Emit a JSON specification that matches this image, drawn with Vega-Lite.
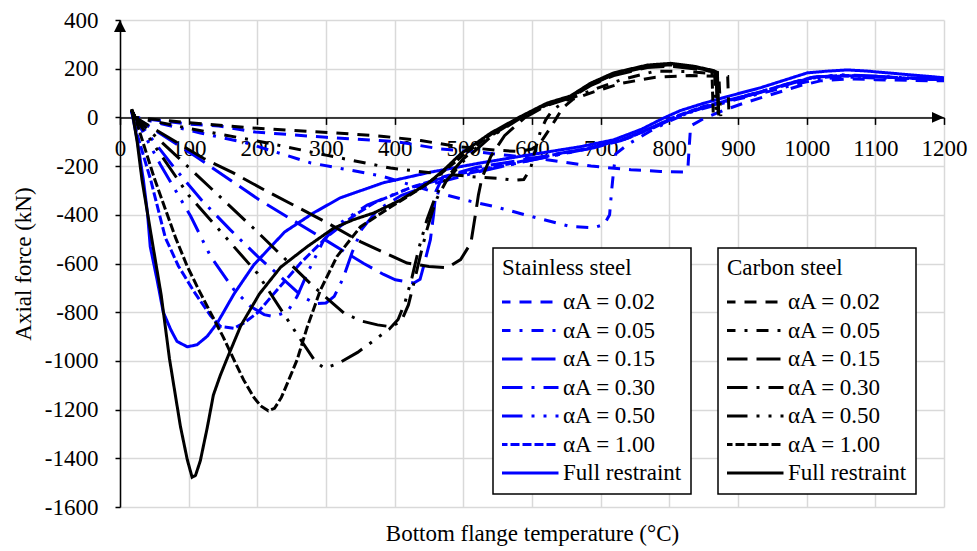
{
  "$schema": "https://vega.github.io/schema/vega-lite/v6.json",
  "width": 824,
  "height": 487,
  "autosize": "none",
  "padding": {"left": 120, "top": 20, "right": 33, "bottom": 44},
  "config": {
    "font": "Liberation Serif",
    "view": {"stroke": null},
    "axis": {
      "labelFont": "Liberation Serif", "labelFontSize": 23, "labelColor": "black",
      "titleFont": "Liberation Serif", "titleFontSize": 23, "titleFontWeight": "normal", "titleColor": "black",
      "domainColor": "black", "domainWidth": 1.5, "tickColor": "black", "tickWidth": 1.5,
      "gridColor": "#d9d9d9", "gridWidth": 1.5
    },
    "legend": {
      "labelFont": "Liberation Serif", "labelFontSize": 23, "labelColor": "black",
      "titleFont": "Liberation Serif", "titleFontSize": 23, "titleFontWeight": "normal", "titleColor": "black",
      "symbolType": "stroke", "symbolSize": 3600, "symbolStrokeWidth": 3,
      "clipHeight": 22, "rowPadding": 5.5, "padding": 9, "symbolOffset": -5, "labelOffset": 3,
      "titlePadding": 11, "strokeColor": "black", "fillColor": "white", "strokeWidth": 1.5,
      "labelLimit": 0, "titleLimit": 0
    }
  },
  "data": {"values": [
    {"steel":"Stainless","series":"Full restraint","temp":17,"force":25},
    {"steel":"Stainless","series":"Full restraint","temp":25,"force":-90},
    {"steel":"Stainless","series":"Full restraint","temp":34,"force":-256},
    {"steel":"Stainless","series":"Full restraint","temp":40,"force":-392},
    {"steel":"Stainless","series":"Full restraint","temp":44,"force":-530},
    {"steel":"Stainless","series":"Full restraint","temp":54,"force":-667},
    {"steel":"Stainless","series":"Full restraint","temp":63,"force":-800},
    {"steel":"Stainless","series":"Full restraint","temp":74,"force":-872},
    {"steel":"Stainless","series":"Full restraint","temp":83,"force":-920},
    {"steel":"Stainless","series":"Full restraint","temp":98,"force":-942},
    {"steel":"Stainless","series":"Full restraint","temp":112,"force":-934},
    {"steel":"Stainless","series":"Full restraint","temp":127,"force":-899},
    {"steel":"Stainless","series":"Full restraint","temp":142,"force":-843},
    {"steel":"Stainless","series":"Full restraint","temp":166,"force":-725},
    {"steel":"Stainless","series":"Full restraint","temp":195,"force":-605},
    {"steel":"Stainless","series":"Full restraint","temp":240,"force":-470},
    {"steel":"Stainless","series":"Full restraint","temp":282,"force":-392},
    {"steel":"Stainless","series":"Full restraint","temp":321,"force":-330},
    {"steel":"Stainless","series":"Full restraint","temp":384,"force":-268},
    {"steel":"Stainless","series":"Full restraint","temp":452,"force":-225},
    {"steel":"Stainless","series":"Full restraint","temp":525,"force":-187},
    {"steel":"Stainless","series":"Full restraint","temp":598,"force":-153},
    {"steel":"Stainless","series":"Full restraint","temp":671,"force":-120},
    {"steel":"Stainless","series":"Full restraint","temp":719,"force":-92},
    {"steel":"Stainless","series":"Full restraint","temp":760,"force":-48},
    {"steel":"Stainless","series":"Full restraint","temp":790,"force":-5},
    {"steel":"Stainless","series":"Full restraint","temp":816,"force":28},
    {"steel":"Stainless","series":"Full restraint","temp":850,"force":58},
    {"steel":"Stainless","series":"Full restraint","temp":885,"force":86},
    {"steel":"Stainless","series":"Full restraint","temp":933,"force":122},
    {"steel":"Stainless","series":"Full restraint","temp":981,"force":165},
    {"steel":"Stainless","series":"Full restraint","temp":1001,"force":183},
    {"steel":"Stainless","series":"Full restraint","temp":1030,"force":190},
    {"steel":"Stainless","series":"Full restraint","temp":1060,"force":195},
    {"steel":"Stainless","series":"Full restraint","temp":1089,"force":190},
    {"steel":"Stainless","series":"Full restraint","temp":1150,"force":175},
    {"steel":"Stainless","series":"Full restraint","temp":1200,"force":163},

    {"steel":"Stainless","series":"1.00","temp":17,"force":25},
    {"steel":"Stainless","series":"1.00","temp":25,"force":-70},
    {"steel":"Stainless","series":"1.00","temp":45,"force":-260},
    {"steel":"Stainless","series":"1.00","temp":66,"force":-494},
    {"steel":"Stainless","series":"1.00","temp":85,"force":-610},
    {"steel":"Stainless","series":"1.00","temp":107,"force":-712},
    {"steel":"Stainless","series":"1.00","temp":132,"force":-815},
    {"steel":"Stainless","series":"1.00","temp":146,"force":-858},
    {"steel":"Stainless","series":"1.00","temp":166,"force":-866},
    {"steel":"Stainless","series":"1.00","temp":180,"force":-845},
    {"steel":"Stainless","series":"1.00","temp":200,"force":-803},
    {"steel":"Stainless","series":"1.00","temp":229,"force":-708},
    {"steel":"Stainless","series":"1.00","temp":263,"force":-598},
    {"steel":"Stainless","series":"1.00","temp":302,"force":-489},
    {"steel":"Stainless","series":"1.00","temp":340,"force":-405},
    {"steel":"Stainless","series":"1.00","temp":370,"force":-351},
    {"steel":"Stainless","series":"1.00","temp":428,"force":-283},
    {"steel":"Stainless","series":"1.00","temp":480,"force":-240},
    {"steel":"Stainless","series":"1.00","temp":550,"force":-200},
    {"steel":"Stainless","series":"1.00","temp":620,"force":-160},
    {"steel":"Stainless","series":"1.00","temp":690,"force":-122},
    {"steel":"Stainless","series":"1.00","temp":740,"force":-85},
    {"steel":"Stainless","series":"1.00","temp":780,"force":-35},
    {"steel":"Stainless","series":"1.00","temp":810,"force":5},
    {"steel":"Stainless","series":"1.00","temp":850,"force":45},
    {"steel":"Stainless","series":"1.00","temp":885,"force":70},
    {"steel":"Stainless","series":"1.00","temp":933,"force":105},
    {"steel":"Stainless","series":"1.00","temp":981,"force":145},
    {"steel":"Stainless","series":"1.00","temp":1010,"force":165},
    {"steel":"Stainless","series":"1.00","temp":1050,"force":172},
    {"steel":"Stainless","series":"1.00","temp":1100,"force":168},
    {"steel":"Stainless","series":"1.00","temp":1150,"force":160},
    {"steel":"Stainless","series":"1.00","temp":1200,"force":155},

    {"steel":"Stainless","series":"0.50","temp":17,"force":25},
    {"steel":"Stainless","series":"0.50","temp":22,"force":0},
    {"steel":"Stainless","series":"0.50","temp":60,"force":-200},
    {"steel":"Stainless","series":"0.50","temp":103,"force":-406},
    {"steel":"Stainless","series":"0.50","temp":132,"force":-571},
    {"steel":"Stainless","series":"0.50","temp":166,"force":-708},
    {"steel":"Stainless","series":"0.50","temp":190,"force":-776},
    {"steel":"Stainless","series":"0.50","temp":210,"force":-810},
    {"steel":"Stainless","series":"0.50","temp":224,"force":-818},
    {"steel":"Stainless","series":"0.50","temp":244,"force":-797},
    {"steel":"Stainless","series":"0.50","temp":258,"force":-735},
    {"steel":"Stainless","series":"0.50","temp":273,"force":-639},
    {"steel":"Stainless","series":"0.50","temp":297,"force":-502},
    {"steel":"Stainless","series":"0.50","temp":321,"force":-433},
    {"steel":"Stainless","series":"0.50","temp":360,"force":-360},
    {"steel":"Stainless","series":"0.50","temp":420,"force":-292},
    {"steel":"Stainless","series":"0.50","temp":480,"force":-245},
    {"steel":"Stainless","series":"0.50","temp":550,"force":-205},
    {"steel":"Stainless","series":"0.50","temp":620,"force":-163},
    {"steel":"Stainless","series":"0.50","temp":690,"force":-125},
    {"steel":"Stainless","series":"0.50","temp":740,"force":-85},
    {"steel":"Stainless","series":"0.50","temp":780,"force":-35},
    {"steel":"Stainless","series":"0.50","temp":810,"force":3},
    {"steel":"Stainless","series":"0.50","temp":850,"force":42},
    {"steel":"Stainless","series":"0.50","temp":885,"force":68},
    {"steel":"Stainless","series":"0.50","temp":933,"force":103},
    {"steel":"Stainless","series":"0.50","temp":981,"force":143},
    {"steel":"Stainless","series":"0.50","temp":1010,"force":165},
    {"steel":"Stainless","series":"0.50","temp":1050,"force":175},
    {"steel":"Stainless","series":"0.50","temp":1100,"force":170},
    {"steel":"Stainless","series":"0.50","temp":1150,"force":162},
    {"steel":"Stainless","series":"0.50","temp":1200,"force":157},

    {"steel":"Stainless","series":"0.30","temp":17,"force":25},
    {"steel":"Stainless","series":"0.30","temp":22,"force":0},
    {"steel":"Stainless","series":"0.30","temp":80,"force":-210},
    {"steel":"Stainless","series":"0.30","temp":119,"force":-340},
    {"steel":"Stainless","series":"0.30","temp":160,"force":-460},
    {"steel":"Stainless","series":"0.30","temp":200,"force":-570},
    {"steel":"Stainless","series":"0.30","temp":240,"force":-670},
    {"steel":"Stainless","series":"0.30","temp":265,"force":-735},
    {"steel":"Stainless","series":"0.30","temp":285,"force":-765},
    {"steel":"Stainless","series":"0.30","temp":300,"force":-762},
    {"steel":"Stainless","series":"0.30","temp":312,"force":-735},
    {"steel":"Stainless","series":"0.30","temp":325,"force":-660},
    {"steel":"Stainless","series":"0.30","temp":338,"force":-555},
    {"steel":"Stainless","series":"0.30","temp":352,"force":-460},
    {"steel":"Stainless","series":"0.30","temp":375,"force":-380},
    {"steel":"Stainless","series":"0.30","temp":410,"force":-320},
    {"steel":"Stainless","series":"0.30","temp":460,"force":-270},
    {"steel":"Stainless","series":"0.30","temp":520,"force":-225},
    {"steel":"Stainless","series":"0.30","temp":600,"force":-175},
    {"steel":"Stainless","series":"0.30","temp":680,"force":-130},
    {"steel":"Stainless","series":"0.30","temp":730,"force":-95},
    {"steel":"Stainless","series":"0.30","temp":775,"force":-45},
    {"steel":"Stainless","series":"0.30","temp":805,"force":-5},
    {"steel":"Stainless","series":"0.30","temp":850,"force":40},
    {"steel":"Stainless","series":"0.30","temp":885,"force":68},
    {"steel":"Stainless","series":"0.30","temp":933,"force":103},
    {"steel":"Stainless","series":"0.30","temp":981,"force":142},
    {"steel":"Stainless","series":"0.30","temp":1010,"force":162},
    {"steel":"Stainless","series":"0.30","temp":1050,"force":170},
    {"steel":"Stainless","series":"0.30","temp":1100,"force":168},
    {"steel":"Stainless","series":"0.30","temp":1150,"force":160},
    {"steel":"Stainless","series":"0.30","temp":1200,"force":155},

    {"steel":"Stainless","series":"0.15","temp":17,"force":25},
    {"steel":"Stainless","series":"0.15","temp":22,"force":0},
    {"steel":"Stainless","series":"0.15","temp":110,"force":-160},
    {"steel":"Stainless","series":"0.15","temp":202,"force":-337},
    {"steel":"Stainless","series":"0.15","temp":300,"force":-505},
    {"steel":"Stainless","series":"0.15","temp":355,"force":-600},
    {"steel":"Stainless","series":"0.15","temp":384,"force":-645},
    {"steel":"Stainless","series":"0.15","temp":401,"force":-667},
    {"steel":"Stainless","series":"0.15","temp":428,"force":-680},
    {"steel":"Stainless","series":"0.15","temp":437,"force":-665},
    {"steel":"Stainless","series":"0.15","temp":442,"force":-613},
    {"steel":"Stainless","series":"0.15","temp":452,"force":-502},
    {"steel":"Stainless","series":"0.15","temp":457,"force":-392},
    {"steel":"Stainless","series":"0.15","temp":460,"force":-304},
    {"steel":"Stainless","series":"0.15","temp":470,"force":-245},
    {"steel":"Stainless","series":"0.15","temp":520,"force":-205},
    {"steel":"Stainless","series":"0.15","temp":600,"force":-168},
    {"steel":"Stainless","series":"0.15","temp":680,"force":-128},
    {"steel":"Stainless","series":"0.15","temp":730,"force":-92},
    {"steel":"Stainless","series":"0.15","temp":775,"force":-42},
    {"steel":"Stainless","series":"0.15","temp":805,"force":-2},
    {"steel":"Stainless","series":"0.15","temp":850,"force":42},
    {"steel":"Stainless","series":"0.15","temp":885,"force":70},
    {"steel":"Stainless","series":"0.15","temp":933,"force":105},
    {"steel":"Stainless","series":"0.15","temp":981,"force":145},
    {"steel":"Stainless","series":"0.15","temp":1010,"force":165},
    {"steel":"Stainless","series":"0.15","temp":1050,"force":172},
    {"steel":"Stainless","series":"0.15","temp":1100,"force":168},
    {"steel":"Stainless","series":"0.15","temp":1150,"force":162},
    {"steel":"Stainless","series":"0.15","temp":1200,"force":157},

    {"steel":"Stainless","series":"0.05","temp":17,"force":25},
    {"steel":"Stainless","series":"0.05","temp":22,"force":0},
    {"steel":"Stainless","series":"0.05","temp":117,"force":-64},
    {"steel":"Stainless","series":"0.05","temp":183,"force":-104},
    {"steel":"Stainless","series":"0.05","temp":278,"force":-187},
    {"steel":"Stainless","series":"0.05","temp":380,"force":-240},
    {"steel":"Stainless","series":"0.05","temp":450,"force":-300},
    {"steel":"Stainless","series":"0.05","temp":511,"force":-345},
    {"steel":"Stainless","series":"0.05","temp":544,"force":-365},
    {"steel":"Stainless","series":"0.05","temp":598,"force":-406},
    {"steel":"Stainless","series":"0.05","temp":656,"force":-448},
    {"steel":"Stainless","series":"0.05","temp":690,"force":-453},
    {"steel":"Stainless","series":"0.05","temp":705,"force":-440},
    {"steel":"Stainless","series":"0.05","temp":713,"force":-400},
    {"steel":"Stainless","series":"0.05","temp":716,"force":-300},
    {"steel":"Stainless","series":"0.05","temp":719,"force":-215},
    {"steel":"Stainless","series":"0.05","temp":722,"force":-150},
    {"steel":"Stainless","series":"0.05","temp":740,"force":-110},
    {"steel":"Stainless","series":"0.05","temp":770,"force":-60},
    {"steel":"Stainless","series":"0.05","temp":800,"force":-15},
    {"steel":"Stainless","series":"0.05","temp":830,"force":20},
    {"steel":"Stainless","series":"0.05","temp":860,"force":45},
    {"steel":"Stainless","series":"0.05","temp":900,"force":75},
    {"steel":"Stainless","series":"0.05","temp":950,"force":110},
    {"steel":"Stainless","series":"0.05","temp":990,"force":140},
    {"steel":"Stainless","series":"0.05","temp":1020,"force":158},
    {"steel":"Stainless","series":"0.05","temp":1060,"force":165},
    {"steel":"Stainless","series":"0.05","temp":1100,"force":162},
    {"steel":"Stainless","series":"0.05","temp":1150,"force":158},
    {"steel":"Stainless","series":"0.05","temp":1200,"force":155},

    {"steel":"Stainless","series":"0.02","temp":17,"force":25},
    {"steel":"Stainless","series":"0.02","temp":22,"force":0},
    {"steel":"Stainless","series":"0.02","temp":100,"force":-28},
    {"steel":"Stainless","series":"0.02","temp":144,"force":-35},
    {"steel":"Stainless","series":"0.02","temp":197,"force":-60},
    {"steel":"Stainless","series":"0.02","temp":300,"force":-82},
    {"steel":"Stainless","series":"0.02","temp":404,"force":-100},
    {"steel":"Stainless","series":"0.02","temp":467,"force":-130},
    {"steel":"Stainless","series":"0.02","temp":515,"force":-140},
    {"steel":"Stainless","series":"0.02","temp":622,"force":-174},
    {"steel":"Stainless","series":"0.02","temp":686,"force":-200},
    {"steel":"Stainless","series":"0.02","temp":744,"force":-215},
    {"steel":"Stainless","series":"0.02","temp":787,"force":-222},
    {"steel":"Stainless","series":"0.02","temp":821,"force":-224},
    {"steel":"Stainless","series":"0.02","temp":827,"force":-210},
    {"steel":"Stainless","series":"0.02","temp":829,"force":-120},
    {"steel":"Stainless","series":"0.02","temp":831,"force":-35},
    {"steel":"Stainless","series":"0.02","temp":850,"force":-5},
    {"steel":"Stainless","series":"0.02","temp":880,"force":30},
    {"steel":"Stainless","series":"0.02","temp":910,"force":60},
    {"steel":"Stainless","series":"0.02","temp":950,"force":95},
    {"steel":"Stainless","series":"0.02","temp":990,"force":130},
    {"steel":"Stainless","series":"0.02","temp":1020,"force":150},
    {"steel":"Stainless","series":"0.02","temp":1060,"force":158},
    {"steel":"Stainless","series":"0.02","temp":1100,"force":155},
    {"steel":"Stainless","series":"0.02","temp":1150,"force":152},
    {"steel":"Stainless","series":"0.02","temp":1200,"force":150},

    {"steel":"Carbon","series":"Full restraint","temp":17,"force":35},
    {"steel":"Carbon","series":"Full restraint","temp":25,"force":-100},
    {"steel":"Carbon","series":"Full restraint","temp":32,"force":-256},
    {"steel":"Carbon","series":"Full restraint","temp":46,"force":-494},
    {"steel":"Carbon","series":"Full restraint","temp":60,"force":-730},
    {"steel":"Carbon","series":"Full restraint","temp":72,"force":-990},
    {"steel":"Carbon","series":"Full restraint","temp":80,"force":-1130},
    {"steel":"Carbon","series":"Full restraint","temp":88,"force":-1269},
    {"steel":"Carbon","series":"Full restraint","temp":98,"force":-1406},
    {"steel":"Carbon","series":"Full restraint","temp":105,"force":-1478},
    {"steel":"Carbon","series":"Full restraint","temp":110,"force":-1470},
    {"steel":"Carbon","series":"Full restraint","temp":117,"force":-1410},
    {"steel":"Carbon","series":"Full restraint","temp":127,"force":-1275},
    {"steel":"Carbon","series":"Full restraint","temp":136,"force":-1140},
    {"steel":"Carbon","series":"Full restraint","temp":146,"force":-1060},
    {"steel":"Carbon","series":"Full restraint","temp":156,"force":-990},
    {"steel":"Carbon","series":"Full restraint","temp":176,"force":-855},
    {"steel":"Carbon","series":"Full restraint","temp":203,"force":-725},
    {"steel":"Carbon","series":"Full restraint","temp":234,"force":-615},
    {"steel":"Carbon","series":"Full restraint","temp":273,"force":-530},
    {"steel":"Carbon","series":"Full restraint","temp":311,"force":-455},
    {"steel":"Carbon","series":"Full restraint","temp":340,"force":-420},
    {"steel":"Carbon","series":"Full restraint","temp":370,"force":-392},
    {"steel":"Carbon","series":"Full restraint","temp":408,"force":-340},
    {"steel":"Carbon","series":"Full restraint","temp":448,"force":-272},
    {"steel":"Carbon","series":"Full restraint","temp":472,"force":-215},
    {"steel":"Carbon","series":"Full restraint","temp":496,"force":-150},
    {"steel":"Carbon","series":"Full restraint","temp":540,"force":-64},
    {"steel":"Carbon","series":"Full restraint","temp":583,"force":3},
    {"steel":"Carbon","series":"Full restraint","temp":622,"force":59},
    {"steel":"Carbon","series":"Full restraint","temp":656,"force":88},
    {"steel":"Carbon","series":"Full restraint","temp":685,"force":140},
    {"steel":"Carbon","series":"Full restraint","temp":719,"force":183},
    {"steel":"Carbon","series":"Full restraint","temp":768,"force":215},
    {"steel":"Carbon","series":"Full restraint","temp":802,"force":222},
    {"steel":"Carbon","series":"Full restraint","temp":836,"force":210},
    {"steel":"Carbon","series":"Full restraint","temp":865,"force":192},
    {"steel":"Carbon","series":"Full restraint","temp":870,"force":182},
    {"steel":"Carbon","series":"Full restraint","temp":871,"force":15},

    {"steel":"Carbon","series":"1.00","temp":17,"force":30},
    {"steel":"Carbon","series":"1.00","temp":22,"force":0},
    {"steel":"Carbon","series":"1.00","temp":50,"force":-250},
    {"steel":"Carbon","series":"1.00","temp":81,"force":-495},
    {"steel":"Carbon","series":"1.00","temp":98,"force":-612},
    {"steel":"Carbon","series":"1.00","temp":115,"force":-710},
    {"steel":"Carbon","series":"1.00","temp":132,"force":-803},
    {"steel":"Carbon","series":"1.00","temp":150,"force":-900},
    {"steel":"Carbon","series":"1.00","temp":166,"force":-996},
    {"steel":"Carbon","series":"1.00","temp":180,"force":-1078},
    {"steel":"Carbon","series":"1.00","temp":195,"force":-1150},
    {"steel":"Carbon","series":"1.00","temp":205,"force":-1185},
    {"steel":"Carbon","series":"1.00","temp":216,"force":-1205},
    {"steel":"Carbon","series":"1.00","temp":225,"force":-1195},
    {"steel":"Carbon","series":"1.00","temp":235,"force":-1150},
    {"steel":"Carbon","series":"1.00","temp":247,"force":-1070},
    {"steel":"Carbon","series":"1.00","temp":258,"force":-995},
    {"steel":"Carbon","series":"1.00","temp":273,"force":-858},
    {"steel":"Carbon","series":"1.00","temp":292,"force":-708},
    {"steel":"Carbon","series":"1.00","temp":316,"force":-571},
    {"steel":"Carbon","series":"1.00","temp":350,"force":-450},
    {"steel":"Carbon","series":"1.00","temp":394,"force":-368},
    {"steel":"Carbon","series":"1.00","temp":433,"force":-300},
    {"steel":"Carbon","series":"1.00","temp":467,"force":-232},
    {"steel":"Carbon","series":"1.00","temp":500,"force":-155},
    {"steel":"Carbon","series":"1.00","temp":540,"force":-70},
    {"steel":"Carbon","series":"1.00","temp":583,"force":0},
    {"steel":"Carbon","series":"1.00","temp":622,"force":55},
    {"steel":"Carbon","series":"1.00","temp":656,"force":85},
    {"steel":"Carbon","series":"1.00","temp":685,"force":138},
    {"steel":"Carbon","series":"1.00","temp":719,"force":180},
    {"steel":"Carbon","series":"1.00","temp":768,"force":212},
    {"steel":"Carbon","series":"1.00","temp":802,"force":218},
    {"steel":"Carbon","series":"1.00","temp":836,"force":205},
    {"steel":"Carbon","series":"1.00","temp":862,"force":190},
    {"steel":"Carbon","series":"1.00","temp":864,"force":10},

    {"steel":"Carbon","series":"0.50","temp":17,"force":30},
    {"steel":"Carbon","series":"0.50","temp":22,"force":0},
    {"steel":"Carbon","series":"0.50","temp":100,"force":-320},
    {"steel":"Carbon","series":"0.50","temp":200,"force":-640},
    {"steel":"Carbon","series":"0.50","temp":260,"force":-900},
    {"steel":"Carbon","series":"0.50","temp":285,"force":-1005},
    {"steel":"Carbon","series":"0.50","temp":298,"force":-1030},
    {"steel":"Carbon","series":"0.50","temp":318,"force":-1010},
    {"steel":"Carbon","series":"0.50","temp":346,"force":-965},
    {"steel":"Carbon","series":"0.50","temp":375,"force":-905},
    {"steel":"Carbon","series":"0.50","temp":392,"force":-870},
    {"steel":"Carbon","series":"0.50","temp":405,"force":-830},
    {"steel":"Carbon","series":"0.50","temp":415,"force":-760},
    {"steel":"Carbon","series":"0.50","temp":425,"force":-660},
    {"steel":"Carbon","series":"0.50","temp":435,"force":-540},
    {"steel":"Carbon","series":"0.50","temp":447,"force":-420},
    {"steel":"Carbon","series":"0.50","temp":460,"force":-320},
    {"steel":"Carbon","series":"0.50","temp":475,"force":-250},
    {"steel":"Carbon","series":"0.50","temp":500,"force":-170},
    {"steel":"Carbon","series":"0.50","temp":540,"force":-75},
    {"steel":"Carbon","series":"0.50","temp":583,"force":-2},
    {"steel":"Carbon","series":"0.50","temp":622,"force":52},
    {"steel":"Carbon","series":"0.50","temp":656,"force":84},
    {"steel":"Carbon","series":"0.50","temp":685,"force":135},
    {"steel":"Carbon","series":"0.50","temp":719,"force":178},
    {"steel":"Carbon","series":"0.50","temp":768,"force":210},
    {"steel":"Carbon","series":"0.50","temp":802,"force":216},
    {"steel":"Carbon","series":"0.50","temp":836,"force":203},
    {"steel":"Carbon","series":"0.50","temp":866,"force":188},
    {"steel":"Carbon","series":"0.50","temp":868,"force":12},

    {"steel":"Carbon","series":"0.30","temp":17,"force":30},
    {"steel":"Carbon","series":"0.30","temp":22,"force":0},
    {"steel":"Carbon","series":"0.30","temp":100,"force":-205},
    {"steel":"Carbon","series":"0.30","temp":200,"force":-470},
    {"steel":"Carbon","series":"0.30","temp":280,"force":-690},
    {"steel":"Carbon","series":"0.30","temp":326,"force":-803},
    {"steel":"Carbon","series":"0.30","temp":350,"force":-835},
    {"steel":"Carbon","series":"0.30","temp":375,"force":-852},
    {"steel":"Carbon","series":"0.30","temp":395,"force":-860},
    {"steel":"Carbon","series":"0.30","temp":410,"force":-835},
    {"steel":"Carbon","series":"0.30","temp":420,"force":-770},
    {"steel":"Carbon","series":"0.30","temp":428,"force":-680},
    {"steel":"Carbon","series":"0.30","temp":440,"force":-537},
    {"steel":"Carbon","series":"0.30","temp":447,"force":-461},
    {"steel":"Carbon","series":"0.30","temp":455,"force":-385},
    {"steel":"Carbon","series":"0.30","temp":462,"force":-330},
    {"steel":"Carbon","series":"0.30","temp":475,"force":-262},
    {"steel":"Carbon","series":"0.30","temp":500,"force":-180},
    {"steel":"Carbon","series":"0.30","temp":540,"force":-80},
    {"steel":"Carbon","series":"0.30","temp":583,"force":-3},
    {"steel":"Carbon","series":"0.30","temp":622,"force":52},
    {"steel":"Carbon","series":"0.30","temp":656,"force":83},
    {"steel":"Carbon","series":"0.30","temp":685,"force":133},
    {"steel":"Carbon","series":"0.30","temp":719,"force":176},
    {"steel":"Carbon","series":"0.30","temp":768,"force":208},
    {"steel":"Carbon","series":"0.30","temp":802,"force":214},
    {"steel":"Carbon","series":"0.30","temp":836,"force":202},
    {"steel":"Carbon","series":"0.30","temp":868,"force":186},
    {"steel":"Carbon","series":"0.30","temp":870,"force":10},

    {"steel":"Carbon","series":"0.15","temp":17,"force":30},
    {"steel":"Carbon","series":"0.15","temp":22,"force":0},
    {"steel":"Carbon","series":"0.15","temp":122,"force":-169},
    {"steel":"Carbon","series":"0.15","temp":165,"force":-228},
    {"steel":"Carbon","series":"0.15","temp":209,"force":-296},
    {"steel":"Carbon","series":"0.15","temp":300,"force":-430},
    {"steel":"Carbon","series":"0.15","temp":350,"force":-510},
    {"steel":"Carbon","series":"0.15","temp":418,"force":-598},
    {"steel":"Carbon","series":"0.15","temp":450,"force":-612},
    {"steel":"Carbon","series":"0.15","temp":477,"force":-617},
    {"steel":"Carbon","series":"0.15","temp":496,"force":-584},
    {"steel":"Carbon","series":"0.15","temp":511,"force":-516},
    {"steel":"Carbon","series":"0.15","temp":518,"force":-392},
    {"steel":"Carbon","series":"0.15","temp":522,"force":-318},
    {"steel":"Carbon","series":"0.15","temp":527,"force":-250},
    {"steel":"Carbon","series":"0.15","temp":540,"force":-160},
    {"steel":"Carbon","series":"0.15","temp":560,"force":-75},
    {"steel":"Carbon","series":"0.15","temp":590,"force":0},
    {"steel":"Carbon","series":"0.15","temp":622,"force":50},
    {"steel":"Carbon","series":"0.15","temp":656,"force":80},
    {"steel":"Carbon","series":"0.15","temp":685,"force":130},
    {"steel":"Carbon","series":"0.15","temp":719,"force":172},
    {"steel":"Carbon","series":"0.15","temp":768,"force":205},
    {"steel":"Carbon","series":"0.15","temp":802,"force":210},
    {"steel":"Carbon","series":"0.15","temp":836,"force":200},
    {"steel":"Carbon","series":"0.15","temp":870,"force":185},
    {"steel":"Carbon","series":"0.15","temp":872,"force":8},

    {"steel":"Carbon","series":"0.05","temp":17,"force":30},
    {"steel":"Carbon","series":"0.05","temp":22,"force":0},
    {"steel":"Carbon","series":"0.05","temp":100,"force":-45},
    {"steel":"Carbon","series":"0.05","temp":215,"force":-105},
    {"steel":"Carbon","series":"0.05","temp":300,"force":-155},
    {"steel":"Carbon","series":"0.05","temp":394,"force":-208},
    {"steel":"Carbon","series":"0.05","temp":460,"force":-230},
    {"steel":"Carbon","series":"0.05","temp":520,"force":-245},
    {"steel":"Carbon","series":"0.05","temp":550,"force":-250},
    {"steel":"Carbon","series":"0.05","temp":574,"force":-258},
    {"steel":"Carbon","series":"0.05","temp":588,"force":-255},
    {"steel":"Carbon","series":"0.05","temp":598,"force":-210},
    {"steel":"Carbon","series":"0.05","temp":605,"force":-130},
    {"steel":"Carbon","series":"0.05","temp":612,"force":-60},
    {"steel":"Carbon","series":"0.05","temp":620,"force":-10},
    {"steel":"Carbon","series":"0.05","temp":630,"force":30},
    {"steel":"Carbon","series":"0.05","temp":650,"force":70},
    {"steel":"Carbon","series":"0.05","temp":690,"force":115},
    {"steel":"Carbon","series":"0.05","temp":730,"force":155},
    {"steel":"Carbon","series":"0.05","temp":780,"force":190},
    {"steel":"Carbon","series":"0.05","temp":830,"force":188},
    {"steel":"Carbon","series":"0.05","temp":872,"force":178},
    {"steel":"Carbon","series":"0.05","temp":875,"force":5},

    {"steel":"Carbon","series":"0.02","temp":17,"force":30},
    {"steel":"Carbon","series":"0.02","temp":22,"force":0},
    {"steel":"Carbon","series":"0.02","temp":100,"force":-22},
    {"steel":"Carbon","series":"0.02","temp":190,"force":-43},
    {"steel":"Carbon","series":"0.02","temp":311,"force":-63},
    {"steel":"Carbon","series":"0.02","temp":384,"force":-78},
    {"steel":"Carbon","series":"0.02","temp":438,"force":-95},
    {"steel":"Carbon","series":"0.02","temp":492,"force":-120},
    {"steel":"Carbon","series":"0.02","temp":550,"force":-135},
    {"steel":"Carbon","series":"0.02","temp":580,"force":-140},
    {"steel":"Carbon","series":"0.02","temp":600,"force":-130},
    {"steel":"Carbon","series":"0.02","temp":612,"force":-105},
    {"steel":"Carbon","series":"0.02","temp":625,"force":-50},
    {"steel":"Carbon","series":"0.02","temp":634,"force":-10},
    {"steel":"Carbon","series":"0.02","temp":645,"force":40},
    {"steel":"Carbon","series":"0.02","temp":660,"force":75},
    {"steel":"Carbon","series":"0.02","temp":690,"force":105},
    {"steel":"Carbon","series":"0.02","temp":730,"force":140},
    {"steel":"Carbon","series":"0.02","temp":780,"force":165},
    {"steel":"Carbon","series":"0.02","temp":830,"force":172},
    {"steel":"Carbon","series":"0.02","temp":885,"force":168},
    {"steel":"Carbon","series":"0.02","temp":887,"force":0}
  ]},
  "encoding": {
    "x": {
      "field": "temp", "type": "quantitative",
      "scale": {"domain": [0, 1200], "nice": false, "zero": false},
      "axis": {
        "values": [0, 100, 200, 300, 400, 500, 600, 700, 800, 900, 1000, 1100, 1200],
        "offset": -389.6, "tickSize": 7, "labelPadding": 13, "labelFlush": false, "labelOverlap": false,
        "labelExpr": "'' + datum.value",
        "title": "Bottom flange temperature (°C)", "titleY": 423, "titleBaseline": "alphabetic"
      }
    },
    "y": {
      "field": "force", "type": "quantitative",
      "scale": {"domain": [-1600, 400], "nice": false, "zero": false},
      "axis": {
        "values": [-1600, -1400, -1200, -1000, -800, -600, -400, -200, 0, 200, 400],
        "tickSize": 5, "labelPadding": 17, "labelOverlap": false,
        "labelExpr": "datum.value < 0 ? '-' + abs(datum.value) : '' + datum.value",
        "title": "Axial force (kN)", "titleAngle": -90, "titleX": -97, "titleY": 243.5,
        "titleBaseline": "middle", "titleAlign": "center"
      }
    }
  },
  "layer": [
    {
      "transform": [{"filter": "datum.steel == 'Stainless'"}],
      "mark": {"type": "line", "color": "#0000ff", "strokeWidth": 3},
      "encoding": {
        "detail": {"field": "series"},
        "order": {"value": null},
        "strokeDash": {
          "field": "series", "type": "nominal",
          "scale": {
            "domain": ["0.02", "0.05", "0.15", "0.30", "0.50", "1.00", "Full restraint"],
            "range": [[12, 9], [12, 9, 3, 9], [24, 9], [24, 9, 3, 9], [24, 9, 3, 9, 3, 9], [9, 3], [1, 0]]
          },
          "legend": {
            "title": "\u00a0Stainless steel", "orient": "none", "legendX": 373, "legendY": 228,
            "direction": "vertical", "symbolStrokeColor": "#0000ff",
            "labelExpr": "datum.label == 'Full restraint' ? datum.label + '\u00a0\u00a0' : 'αA = ' + datum.label + '\u00a0\u00a0'"
          }
        }
      }
    },
    {
      "transform": [{"filter": "datum.steel == 'Carbon'"}],
      "mark": {"type": "line", "color": "#000000", "strokeWidth": 3},
      "encoding": {
        "detail": {"field": "series"},
        "order": {"value": null},
        "strokeDash": {
          "field": "series", "type": "nominal",
          "scale": {
            "domain": ["0.02", "0.05", "0.15", "0.30", "0.50", "1.00", "Full restraint"],
            "range": [[12, 9], [12, 9, 3, 9], [24, 9], [24, 9, 3, 9], [24, 9, 3, 9, 3, 9], [9, 3], [1, 0]]
          },
          "legend": {
            "title": "\u00a0Carbon steel", "orient": "none", "legendX": 598, "legendY": 228,
            "direction": "vertical", "symbolStrokeColor": "#000000",
            "labelExpr": "datum.label == 'Full restraint' ? datum.label + '\u00a0\u00a0' : 'αA = ' + datum.label + '\u00a0\u00a0'"
          }
        }
      }
    },
    {
      "data": {"values": [{"temp": 0, "force": 400}]},
      "mark": {"type": "point", "shape": "M0,0L-1,2L1,2Z", "filled": true, "fill": "black", "fillOpacity": 1, "size": 144, "strokeWidth": 0}
    },
    {
      "data": {"values": [{"temp": 1200, "force": 0}]},
      "mark": {"type": "point", "shape": "M0,0L-2,-0.9L-2,0.9Z", "filled": true, "fill": "black", "fillOpacity": 1, "size": 144, "strokeWidth": 0}
    }
  ],
  "resolve": {"scale": {"strokeDash": "independent"}, "legend": {"strokeDash": "independent"}}
}
